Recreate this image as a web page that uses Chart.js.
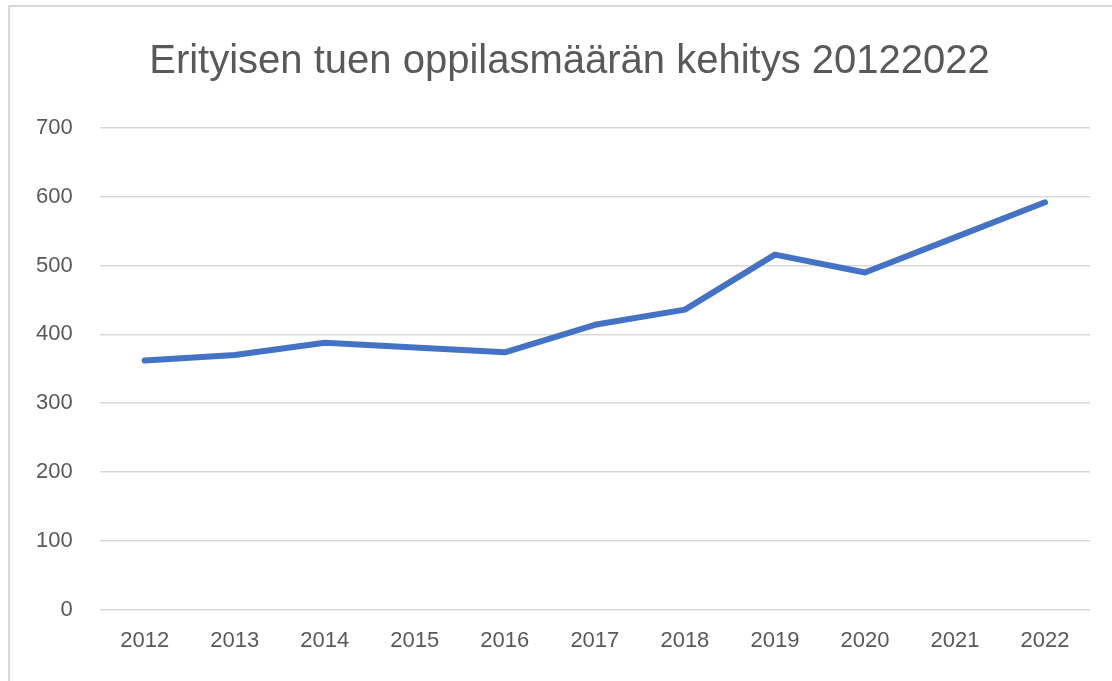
<!DOCTYPE html>
<html lang="fi">
<head>
  <meta charset="UTF-8">
  <title>Erityisen tuen oppilasmäärän kehitys</title>
  <script src="https://cdn.jsdelivr.net/npm/chart.js@4/dist/chart.umd.min.js"></script>
  <style>
    html, body { margin: 0; padding: 0; background: #fff; overflow: hidden; }
    #frame { position: absolute; left: 8px; top: 5px; width: 1200px; height: 800px;
             border-left: 2px solid #d9d9d9; border-top: 2px solid #d9d9d9; }
    #wrap { position: absolute; left: 0; top: 0; width: 1112px; height: 681px; }
  </style>
</head>
<body>
<div id="frame"></div>
<div id="wrap"><canvas id="lineChart"></canvas></div>

<script>
  const years = ['2012', '2013', '2014', '2015', '2016', '2017', '2018', '2019', '2020', '2021', '2022'];
  const pupils = [362, 370, 388, 381, 374, 414, 436, 516, 490, 541, 592];
  const yTicks = [0, 100, 200, 300, 400, 500, 600, 700];

  const fontFam = '"Liberation Sans", Arial, sans-serif';
  const grey = '#595959';

  new Chart(document.getElementById('lineChart').getContext('2d'), {
    type: 'line',
    data: {
      labels: years,
      datasets: [{
        label: 'Oppilaat',
        data: pupils,
        borderColor: '#4472C4',
        backgroundColor: '#4472C4',
        borderWidth: 6,
        borderCapStyle: 'round',
        borderJoinStyle: 'round',
        pointRadius: 0,
        tension: 0
      }]
    },
    options: {
      responsive: true,
      maintainAspectRatio: false,
      animation: false,
      layout: { padding: { left: 9, right: 22, top: 0, bottom: 9 } },
      plugins: {
        legend: { display: false },
        tooltip: { enabled: false },
        title: {
          display: true,
          // leading em space nudges the centred title a bit to the right, as in the original
          text: '\u2003Erityisen tuen oppilasmäärän kehitys 20122022',
          color: grey,
          font: { family: fontFam, size: 40, weight: 'normal' },
          padding: { top: 38, bottom: 42 }
        }
      },
      scales: {
        x: {
          offset: true,
          grid: { display: false, drawTicks: false },
          border: { display: false },
          ticks: { color: grey, font: { family: fontFam, size: 22 }, padding: 18, maxRotation: 0 }
        },
        y: {
          min: yTicks[0],
          max: yTicks[yTicks.length - 1],
          afterBuildTicks: axis => { axis.ticks = yTicks.map(v => ({ value: v })); },
          grid: { color: '#d9d9d9', lineWidth: 1.5, drawTicks: false },
          border: { display: false },
          ticks: { color: grey, font: { family: fontFam, size: 22 }, padding: 27 }
        }
      }
    }
  });
</script>
</body>
</html>
